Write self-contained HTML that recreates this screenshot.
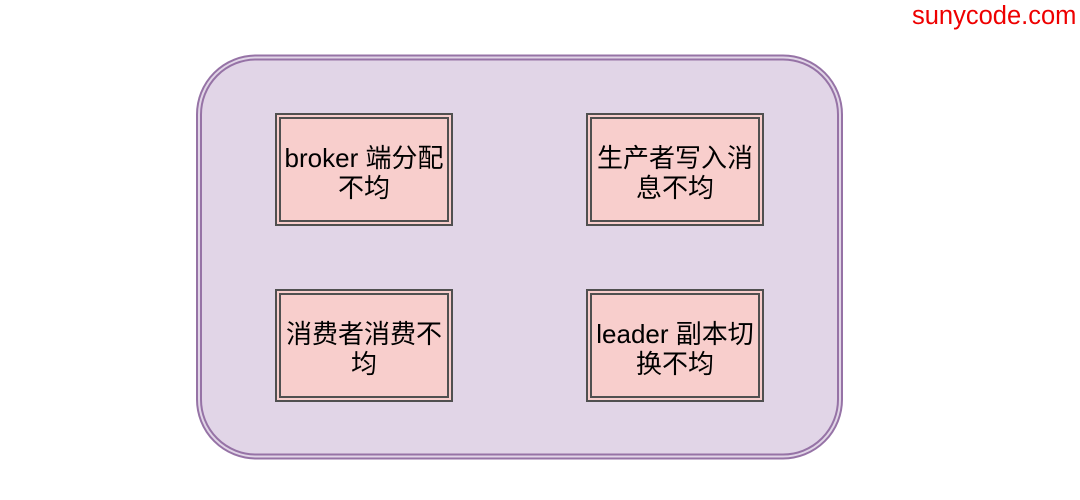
<!DOCTYPE html>
<html>
<head>
<meta charset="utf-8">
<style>
  html, body { margin:0; padding:0; background:#ffffff; }
  body { width:1080px; height:500px; position:relative; overflow:hidden;
         font-family:"Liberation Sans","Noto Sans CJK SC",sans-serif; }
  .wm { position:absolute; left:912px; top:1px; font-size:25.5px; color:#ee0000;
        line-height:30px; white-space:nowrap; }
  .box { position:absolute; width:178px; height:113px; box-sizing:border-box;
         border:2px solid #505050; background:#f8cecc; }
  .box .in { position:absolute; left:2px; top:2px; right:2px; bottom:2px;
             border:2px solid #505050; box-sizing:border-box;
             display:flex; align-items:center; justify-content:center; text-align:center;
             font-size:26px; line-height:30px; color:#000; white-space:nowrap; }
  .box .in div { position:relative; top:3px; }
</style>
</head>
<body>
<div class="wm">sunycode.com</div>
<svg width="1080" height="500" style="position:absolute;left:0;top:0">
  <rect x="197" y="55.5" width="645" height="403" rx="59" ry="59" fill="#e1d5e7" stroke="#9673a6" stroke-width="2"/>
  <rect x="201" y="59.5" width="637" height="395" rx="55" ry="55" fill="none" stroke="#9673a6" stroke-width="2"/>
</svg>
<div class="box" style="left:275px;top:113px;"><div class="in"><div>broker 端分配<br>不均</div></div></div>
<div class="box" style="left:586px;top:113px;"><div class="in"><div>生产者写入消<br>息不均</div></div></div>
<div class="box" style="left:275px;top:289px;"><div class="in"><div>消费者消费不<br>均</div></div></div>
<div class="box" style="left:586px;top:289px;"><div class="in"><div>leader 副本切<br>换不均</div></div></div>
</body>
</html>
